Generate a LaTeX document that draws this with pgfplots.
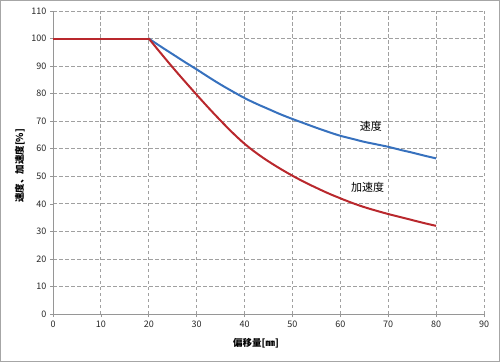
\documentclass[border=0pt]{standalone}
\usepackage{pgfplots}
\pgfplotsset{compat=1.18}
\usepackage{fontspec}
\setmainfont{Noto Sans CJK JP}
\definecolor{speedblue}{RGB}{55,113,190}
\definecolor{accred}{RGB}{185,40,45}
\definecolor{gridgray}{RGB}{160,160,160}
\definecolor{axisgray}{RGB}{150,150,150}
\begin{document}
\begin{tikzpicture}
\useasboundingbox (0pt,0pt) rectangle (500pt,362pt);
\draw[draw=black!35, line width=1pt] (0.5pt,0.5pt) rectangle (499.5pt,361.5pt);
\begin{axis}[
  at={(53pt,48pt)}, anchor=south west,
  scale only axis, width=431pt, height=303pt,
  xmin=0, xmax=90, ymin=0, ymax=110,
  xtick={0,10,...,90}, ytick={0,10,...,110},
  grid=major,
  grid style={gridgray, line width=0.8pt, dash pattern=on 3.5pt off 2.5pt},
  axis x line*=bottom, axis y line*=left,
  axis line style={axisgray, line width=0.9pt},
  tick style={axisgray, line width=0.6pt},
  tick align=outside, major tick length=3pt,
  ticklabel style={font=\fontsize{9}{10}\selectfont, text=black!85},
  /pgf/number format/assume math mode=true,
  clip=false,
]
\addplot[speedblue, line width=2pt] coordinates {
  (0,100) (20,100)
};
\addplot[speedblue, line width=2pt, smooth, tension=0.6] coordinates {
  (20,100) (22.5,97.1) (25,94.3) (27.5,91.5) (30,88.8) (32.5,86.0) (35,83.3)
  (37.5,80.8) (40,78.4) (42.5,76.3) (45,74.4) (47.5,72.5) (50,70.8)
  (52.5,69.2) (55,67.6) (57.5,66.1) (60,64.7) (62.5,63.6) (65,62.5)
  (67.5,61.6) (70,60.7) (72.5,59.6) (75,58.6) (77.5,57.5) (80,56.5)
};
\addplot[accred, line width=2pt] coordinates {
  (0,100) (20,100)
};
\addplot[accred, line width=2pt, smooth, tension=0.6] coordinates {
  (20,100) (22.5,94.7) (25,89.5) (27.5,84.5) (30,79.6) (32.5,74.8) (35,70.2)
  (37.5,65.8) (40,61.8) (42.5,58.4) (45,55.4) (47.5,52.7) (50,50.2)
  (52.5,47.9) (55,45.8) (57.5,43.8) (60,42.0) (62.5,40.3) (65,38.8)
  (67.5,37.5) (70,36.3) (72.5,35.2) (75,34.1) (77.5,33.0) (80,32.0)
};
\node[font=\fontsize{11}{12}\selectfont] at (axis cs:66.4,68) {速度};
\node[font=\fontsize{11}{12}\selectfont] at (axis cs:65.7,46) {加速度};
\end{axis}
\node[font=\fontsize{9.5}{10}\selectfont\bfseries] at (256pt,19pt) {偏移量[㎜]};
\node[font=\fontsize{9.5}{10}\selectfont\bfseries, rotate=90] at (20pt,196pt) {速度、加速度[\%]};
\end{tikzpicture}
\end{document}
